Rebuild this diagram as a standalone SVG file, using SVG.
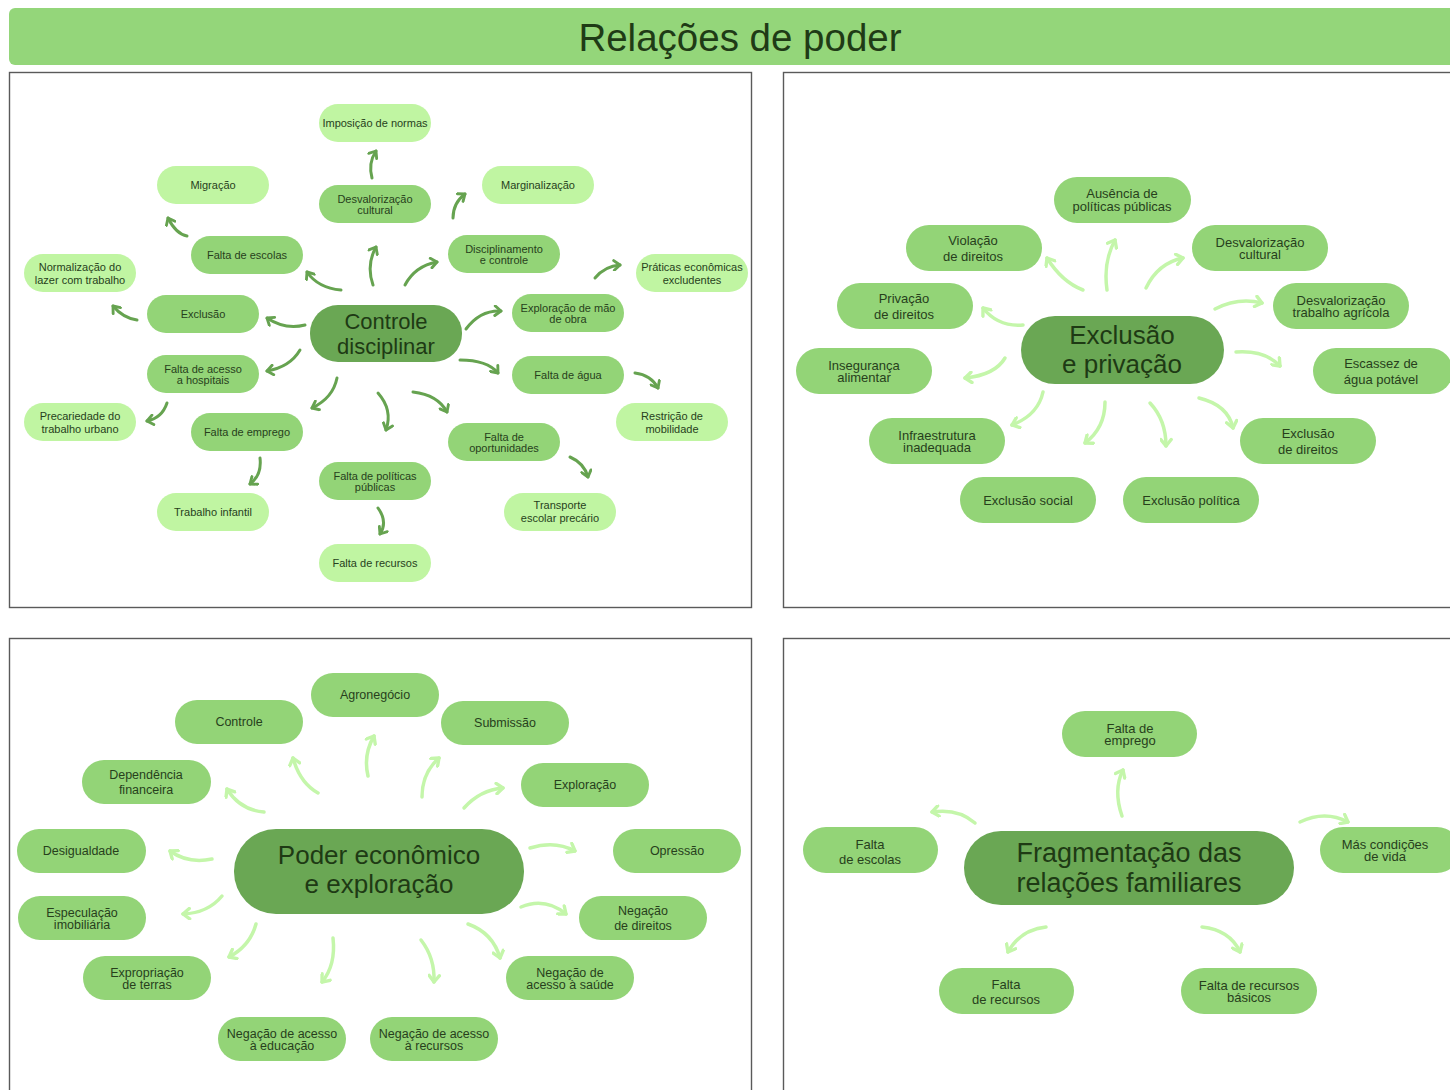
<svg xmlns="http://www.w3.org/2000/svg" width="1450" height="1090" viewBox="0 0 1450 1090">
<defs>
<style>
.panel{fill:#ffffff;stroke:#5a5a5a;stroke-width:1.4}
.lt{fill:#c0f5a2}
.md{fill:#93d477}
.dk{fill:#6aa754}
text{font-family:"Liberation Sans",Arial,sans-serif;text-anchor:middle;fill:#273f1c}
.s11{font-size:11px}
.s13{font-size:13px}
.s125{font-size:12.5px}
.cdark{stroke:#66a350;stroke-width:3;fill:none;stroke-linecap:round;marker-end:url(#ahD)}
.clight{stroke:#c4f6aa;stroke-width:3.5;fill:none;stroke-linecap:round;marker-end:url(#ahL)}
</style>
<marker id="ahD" viewBox="0 0 10 10" refX="7" refY="5" markerWidth="12" markerHeight="12" markerUnits="userSpaceOnUse" orient="auto">
<path d="M2,1 L7,5 L2,9" fill="none" stroke="#66a350" stroke-width="2.4" stroke-linecap="round" stroke-linejoin="round"/>
</marker>
<marker id="ahL" viewBox="0 0 10 10" refX="7" refY="5" markerWidth="13" markerHeight="13" markerUnits="userSpaceOnUse" orient="auto">
<path d="M2,1 L7,5 L2,9" fill="none" stroke="#c4f6aa" stroke-width="2.6" stroke-linecap="round" stroke-linejoin="round"/>
</marker>
</defs>
<rect width="1450" height="1090" fill="#ffffff"/>

<g id="header">
<rect x="9" y="8" width="1460" height="57" rx="6" fill="#94d67a"/>
<text x="740" y="51" style="font-size:38.5px;fill:#1f3b16">Relações de poder</text>
</g>

<g id="panels">
<rect class="panel" x="9.5" y="72.5" width="742" height="535"/>
<rect class="panel" x="783.5" y="72.5" width="700" height="535"/>
<rect class="panel" x="9.5" y="638.5" width="742" height="500"/>
<rect class="panel" x="783.5" y="638.5" width="700" height="500"/>
</g>

<!-- Connectors -->
<g id="connectors">
<g id="conn-tl">
<path class="cdark" d="M187,236 Q176,234 168,218"/>
<path class="cdark" d="M341,290 Q318,288 307,272"/>
<path class="cdark" d="M373,285 Q366,265 376,247"/>
<path class="cdark" d="M372,178 Q368,163 376,151"/>
<path class="cdark" d="M137,320 Q123,318 113,306"/>
<path class="cdark" d="M305,325 Q285,330 267,318"/>
<path class="cdark" d="M453,218 Q453,203 465,194"/>
<path class="cdark" d="M405,285 Q415,266 437,262"/>
<path class="cdark" d="M595,278 Q605,266 620,265"/>
<path class="cdark" d="M466,329 Q480,310 501,311"/>
<path class="cdark" d="M300,350 Q290,367 267,371"/>
<path class="cdark" d="M167,403 Q162,418 147,421"/>
<path class="cdark" d="M337,378 Q333,398 312,408"/>
<path class="cdark" d="M260,458 Q262,475 250,484"/>
<path class="cdark" d="M378,393 Q393,410 386,430"/>
<path class="cdark" d="M378,508 Q388,522 380,534"/>
<path class="cdark" d="M460,360 Q487,360 498,373"/>
<path class="cdark" d="M413,392 Q438,395 447,412"/>
<path class="cdark" d="M635,373 Q651,375 658,388"/>
<path class="cdark" d="M570,457 Q584,463 588,477"/>
</g>
<g id="conn-tr">
<path class="clight" d="M1107,290 Q1103,262 1115,240"/>
<path class="clight" d="M1083,290 Q1062,282 1047,258"/>
<path class="clight" d="M1146,288 Q1158,263 1183,258"/>
<path class="clight" d="M1023,325 Q998,327 983,308"/>
<path class="clight" d="M1215,309 Q1238,297 1262,303"/>
<path class="clight" d="M1005,358 Q995,375 965,378"/>
<path class="clight" d="M1236,352 Q1265,350 1280,366"/>
<path class="clight" d="M1043,392 Q1038,415 1012,425"/>
<path class="clight" d="M1105,402 Q1105,428 1085,443"/>
<path class="clight" d="M1150,403 Q1166,420 1166,446"/>
<path class="clight" d="M1199,398 Q1228,405 1233,428"/>
</g>
<g id="conn-bl">
<path class="clight" d="M318,793 Q300,783 293,758"/>
<path class="clight" d="M368,776 Q363,755 374,736"/>
<path class="clight" d="M422,797 Q422,773 439,758"/>
<path class="clight" d="M264,812 Q240,810 227,789"/>
<path class="clight" d="M464,808 Q480,790 503,788"/>
<path class="clight" d="M212,859 Q188,864 170,851"/>
<path class="clight" d="M530,848 Q555,840 575,851"/>
<path class="clight" d="M222,896 Q208,913 183,914"/>
<path class="clight" d="M521,907 Q545,897 566,914"/>
<path class="clight" d="M256,924 Q250,946 229,957"/>
<path class="clight" d="M333,938 Q336,965 322,982"/>
<path class="clight" d="M421,940 Q435,958 434,982"/>
<path class="clight" d="M468,924 Q493,933 500,958"/>
</g>
<g id="conn-br">
<path class="clight" d="M1122,816 Q1113,790 1123,770"/>
<path class="clight" d="M975,823 Q958,808 932,812"/>
<path class="clight" d="M1300,822 Q1325,810 1348,822"/>
<path class="clight" d="M1046,927 Q1020,930 1008,952"/>
<path class="clight" d="M1202,927 Q1230,930 1240,952"/>
</g>
</g>

<!-- Top-left panel nodes -->
<g id="tl-imposicao"><rect class="lt" x="319" y="104" width="112" height="38" rx="19"/><text class="s11" x="375" y="127">Imposição de normas</text></g>
<g id="tl-migracao"><rect class="lt" x="157" y="166" width="112" height="38" rx="19"/><text class="s11" x="213" y="189">Migração</text></g>
<g id="tl-desvalorizacao"><rect class="md" x="319" y="185" width="112" height="38" rx="19"/><text class="s11" x="375" y="203">Desvalorização<tspan x="375" y="213.5">cultural</tspan></text></g>
<g id="tl-marginalizacao"><rect class="lt" x="482" y="166" width="112" height="38" rx="19"/><text class="s11" x="538" y="189">Marginalização</text></g>
<g id="tl-falta-escolas"><rect class="md" x="191" y="236" width="112" height="38" rx="19"/><text class="s11" x="247" y="259">Falta de escolas</text></g>
<g id="tl-disciplinamento"><rect class="md" x="448" y="235" width="112" height="38" rx="19"/><text class="s11" x="504" y="253">Disciplinamento<tspan x="504" y="263.5">e controle</tspan></text></g>
<g id="tl-normalizacao"><rect class="lt" x="24" y="254" width="112" height="38" rx="19"/><text class="s11" x="80" y="270.5">Normalização do<tspan x="80" y="283.5">lazer com trabalho</tspan></text></g>
<g id="tl-praticas"><rect class="lt" x="636" y="254" width="112" height="38" rx="19"/><text class="s11" x="692" y="270.5">Práticas econômicas<tspan x="692" y="283.5">excludentes</tspan></text></g>
<g id="tl-exclusao"><rect class="md" x="147" y="295" width="112" height="38" rx="19"/><text class="s11" x="203" y="318">Exclusão</text></g>
<g id="tl-center"><rect class="dk" x="310" y="305" width="152" height="57" rx="28"/><text x="386" y="329" style="font-size:22px;fill:#1e3a14">Controle<tspan x="386" y="354">disciplinar</tspan></text></g>
<g id="tl-exploracao"><rect class="md" x="512" y="294" width="112" height="38" rx="19"/><text class="s11" x="568" y="312">Exploração de mão<tspan x="568" y="322.5">de obra</tspan></text></g>
<g id="tl-falta-acesso"><rect class="md" x="147" y="355" width="112" height="38" rx="19"/><text class="s11" x="203" y="373">Falta de acesso<tspan x="203" y="383.5">a hospitais</tspan></text></g>
<g id="tl-falta-agua"><rect class="md" x="512" y="356" width="112" height="38" rx="19"/><text class="s11" x="568" y="379">Falta de água</text></g>
<g id="tl-precariedade"><rect class="lt" x="24" y="403" width="112" height="38" rx="19"/><text class="s11" x="80" y="419.5">Precariedade do<tspan x="80" y="432.5">trabalho urbano</tspan></text></g>
<g id="tl-restricao"><rect class="lt" x="616" y="403" width="112" height="38" rx="19"/><text class="s11" x="672" y="419.5">Restrição de<tspan x="672" y="432.5">mobilidade</tspan></text></g>
<g id="tl-falta-emprego"><rect class="md" x="191" y="413" width="112" height="38" rx="19"/><text class="s11" x="247" y="436">Falta de emprego</text></g>
<g id="tl-falta-oportunidades"><rect class="md" x="448" y="423" width="112" height="38" rx="19"/><text class="s11" x="504" y="441">Falta de<tspan x="504" y="451.5">oportunidades</tspan></text></g>
<g id="tl-falta-politicas"><rect class="md" x="319" y="462" width="112" height="38" rx="19"/><text class="s11" x="375" y="480">Falta de políticas<tspan x="375" y="490.5">públicas</tspan></text></g>
<g id="tl-trabalho-infantil"><rect class="lt" x="157" y="493" width="112" height="38" rx="19"/><text class="s11" x="213" y="516">Trabalho infantil</text></g>
<g id="tl-transporte"><rect class="lt" x="504" y="493" width="112" height="38" rx="19"/><text class="s11" x="560" y="508.5">Transporte<tspan x="560" y="521.5">escolar precário</tspan></text></g>
<g id="tl-falta-recursos"><rect class="lt" x="319" y="544" width="112" height="38" rx="19"/><text class="s11" x="375" y="567">Falta de recursos</text></g>

<!-- Top-right panel nodes -->
<g id="tr-ausencia"><rect class="md" x="1054" y="177" width="137" height="46" rx="23"/><text class="s13" x="1122" y="198">Ausência de<tspan x="1122" y="210.5">políticas públicas</tspan></text></g>
<g id="tr-violacao"><rect class="md" x="906" y="225" width="136" height="46" rx="23"/><text class="s13" x="973" y="244.5">Violação<tspan x="973" y="260.5">de direitos</tspan></text></g>
<g id="tr-desvalorizacao-cultural"><rect class="md" x="1192" y="225" width="136" height="46" rx="23"/><text class="s13" x="1260" y="246.5">Desvalorização<tspan x="1260" y="259">cultural</tspan></text></g>
<g id="tr-privacao"><rect class="md" x="837" y="283" width="136" height="46" rx="23"/><text class="s13" x="904" y="302.5">Privação<tspan x="904" y="318.5">de direitos</tspan></text></g>
<g id="tr-desvalorizacao-agricola"><rect class="md" x="1273" y="283" width="136" height="46" rx="23"/><text class="s13" x="1341" y="304.5">Desvalorização<tspan x="1341" y="317">trabalho agrícola</tspan></text></g>
<g id="tr-center"><rect class="dk" x="1021" y="316" width="203" height="68" rx="34"/><text x="1122" y="344" style="font-size:26px;fill:#1e3a14">Exclusão<tspan x="1122" y="373">e privação</tspan></text></g>
<g id="tr-inseguranca"><rect class="md" x="796" y="348" width="136" height="46" rx="23"/><text class="s13" x="864" y="369.5">Insegurança<tspan x="864" y="382">alimentar</tspan></text></g>
<g id="tr-escassez"><rect class="md" x="1313" y="348" width="140" height="46" rx="23"/><text class="s13" x="1381" y="367.5">Escassez de<tspan x="1381" y="383.5">água potável</tspan></text></g>
<g id="tr-infraestrutura"><rect class="md" x="869" y="418" width="136" height="46" rx="23"/><text class="s13" x="937" y="439.5">Infraestrutura<tspan x="937" y="452">inadequada</tspan></text></g>
<g id="tr-exclusao-direitos"><rect class="md" x="1240" y="418" width="136" height="46" rx="23"/><text class="s13" x="1308" y="437.5">Exclusão<tspan x="1308" y="453.5">de direitos</tspan></text></g>
<g id="tr-exclusao-social"><rect class="md" x="960" y="477" width="136" height="46" rx="23"/><text class="s13" x="1028" y="504.5">Exclusão social</text></g>
<g id="tr-exclusao-politica"><rect class="md" x="1123" y="477" width="136" height="46" rx="23"/><text class="s13" x="1191" y="504.5">Exclusão política</text></g>

<!-- Bottom-left panel nodes -->
<g id="bl-agronegocio"><rect class="md" x="311" y="673" width="128" height="44" rx="22"/><text class="s125" x="375" y="699">Agronegócio</text></g>
<g id="bl-controle"><rect class="md" x="175" y="700" width="128" height="44" rx="22"/><text class="s125" x="239" y="726">Controle</text></g>
<g id="bl-submissao"><rect class="md" x="441" y="701" width="128" height="44" rx="22"/><text class="s125" x="505" y="727">Submissão</text></g>
<g id="bl-dependencia"><rect class="md" x="82" y="760" width="129" height="44" rx="22"/><text class="s125" x="146" y="778.5">Dependência<tspan x="146" y="793.5">financeira</tspan></text></g>
<g id="bl-exploracao"><rect class="md" x="521" y="763" width="128" height="44" rx="22"/><text class="s125" x="585" y="789">Exploração</text></g>
<g id="bl-desigualdade"><rect class="md" x="17" y="829" width="129" height="44" rx="22"/><text class="s125" x="81" y="855">Desigualdade</text></g>
<g id="bl-opressao"><rect class="md" x="613" y="829" width="128" height="44" rx="22"/><text class="s125" x="677" y="855">Opressão</text></g>
<g id="bl-center"><rect class="dk" x="234" y="829" width="290" height="85" rx="42"/><text x="379" y="864" style="font-size:26px;fill:#1e3a14">Poder econômico<tspan x="379" y="893">e exploração</tspan></text></g>
<g id="bl-especulacao"><rect class="md" x="18" y="896" width="128" height="44" rx="22"/><text class="s125" x="82" y="916.5">Especulação<tspan x="82" y="928.5">imobiliária</tspan></text></g>
<g id="bl-negacao-direitos"><rect class="md" x="579" y="896" width="128" height="44" rx="22"/><text class="s125" x="643" y="915">Negação<tspan x="643" y="930">de direitos</tspan></text></g>
<g id="bl-expropriacao"><rect class="md" x="83" y="956" width="128" height="44" rx="22"/><text class="s125" x="147" y="976.5">Expropriação<tspan x="147" y="988.5">de terras</tspan></text></g>
<g id="bl-negacao-saude"><rect class="md" x="506" y="956" width="128" height="44" rx="22"/><text class="s125" x="570" y="976.5">Negação de<tspan x="570" y="988.5">acesso à saúde</tspan></text></g>
<g id="bl-negacao-educacao"><rect class="md" x="218" y="1017" width="128" height="44" rx="22"/><text class="s125" x="282" y="1037.5">Negação de acesso<tspan x="282" y="1049.5">à educação</tspan></text></g>
<g id="bl-negacao-recursos"><rect class="md" x="370" y="1017" width="128" height="44" rx="22"/><text class="s125" x="434" y="1037.5">Negação de acesso<tspan x="434" y="1049.5">à recursos</tspan></text></g>

<!-- Bottom-right panel nodes -->
<g id="br-falta-emprego"><rect class="md" x="1062" y="711" width="135" height="46" rx="23"/><text class="s13" x="1130" y="732.5">Falta de<tspan x="1130" y="745">emprego</tspan></text></g>
<g id="br-falta-escolas"><rect class="md" x="803" y="827" width="135" height="46" rx="23"/><text class="s13" x="870" y="848.5">Falta<tspan x="870" y="863.5">de escolas</tspan></text></g>
<g id="br-mas-condicoes"><rect class="md" x="1320" y="827" width="140" height="46" rx="23"/><text class="s13" x="1385" y="848.5">Más condições<tspan x="1385" y="861">de vida</tspan></text></g>
<g id="br-center"><rect class="dk" x="964" y="831" width="330" height="74" rx="37"/><text x="1129" y="862" style="font-size:27px;fill:#1e3a14">Fragmentação das<tspan x="1129" y="892">relações familiares</tspan></text></g>
<g id="br-falta-recursos"><rect class="md" x="939" y="968" width="135" height="46" rx="23"/><text class="s13" x="1006" y="988.5">Falta<tspan x="1006" y="1003.5">de recursos</tspan></text></g>
<g id="br-falta-recursos-basicos"><rect class="md" x="1181" y="968" width="136" height="46" rx="23"/><text class="s13" x="1249" y="989.5">Falta de recursos<tspan x="1249" y="1002">básicos</tspan></text></g>
</svg>
